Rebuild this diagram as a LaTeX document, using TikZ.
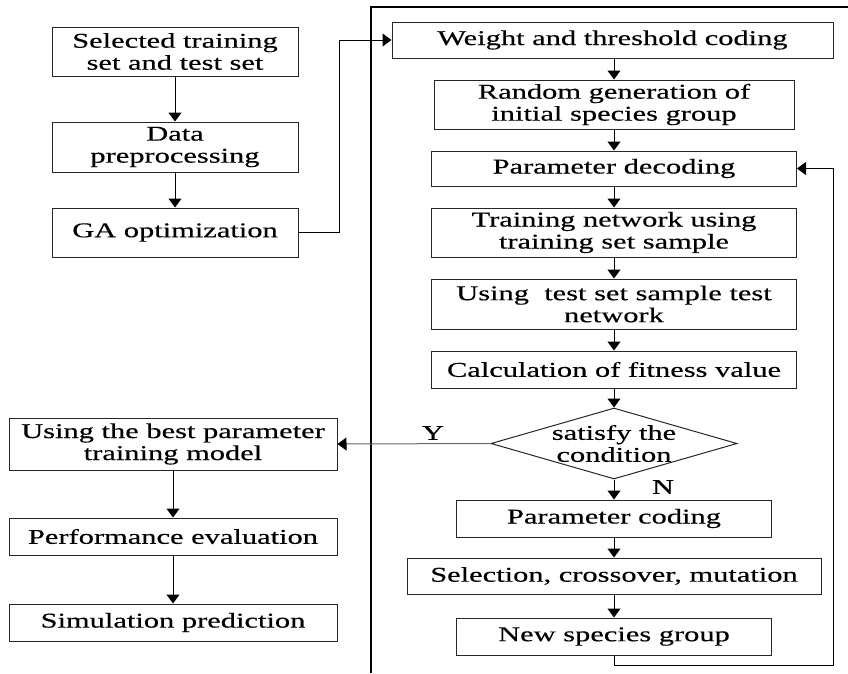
\documentclass[tikz,border=0pt]{standalone}
\usepackage{fontspec}
\setmainfont{Liberation Serif}[FakeStretch=1.45,FakeBold=0.4]
\usetikzlibrary{shapes.geometric,arrows.meta}
\begin{document}
\begin{tikzpicture}[x=1pt,y=-1pt,
  every node/.style={font=\fontsize{21}{22}\selectfont},
  box/.style={draw=black!85,line width=1pt,rectangle,inner sep=0pt,align=center},
  arr/.style={line width=1pt,-{Triangle[length=9pt,width=13pt]}},
  greyarr/.style={line width=1pt,draw=black!60,-{Triangle[length=9pt,width=13pt,color=black]}}]
\useasboundingbox (0,0) rectangle (848,673);
% frame
\draw[line width=2pt] (371,673) -- (371,7) -- (848,7);
% left column
\node[box,minimum width=246,minimum height=49] (A) at (175,51.5) {Selected training\\set and test set};
\node[box,minimum width=246,minimum height=50] (B) at (175,147) {Data\\preprocessing};
\node[box,minimum width=246,minimum height=49] (C) at (175,232.5) {GA optimization};
\node[box,minimum width=328,minimum height=52] (UB) at (173,444) {Using the best parameter\\training model};
\node[box,minimum width=328,minimum height=37] (PE) at (173,536.5) {Performance evaluation};
\node[box,minimum width=328,minimum height=37] (SP) at (173,622.5) {Simulation prediction};
% right column
\node[box,minimum width=441,minimum height=36] (W) at (612.5,40) {Weight and threshold coding};
\node[box,minimum width=360,minimum height=49] (R) at (614,104.5) {Random generation of\\initial species group};
\node[box,minimum width=365,minimum height=35] (PD) at (614,168.5) {Parameter decoding};
\node[box,minimum width=365,minimum height=49] (TN) at (614,232.5) {Training network using\\training set sample};
\node[box,minimum width=365,minimum height=50] (UT) at (614,304) {Using\ \ test set sample test\\network};
\node[box,minimum width=365,minimum height=37] (CF) at (614,369.5) {Calculation of fitness value};
\node[diamond,draw=black!85,line width=1pt,minimum width=246,minimum height=71,inner sep=0pt] (D) at (614,443.5) {};
\node[align=center] (Dt) at (614,443.5) {satisfy the\\condition};
\node[box,minimum width=315,minimum height=37] (PC) at (614,518.5) {Parameter coding};
\node[box,minimum width=414,minimum height=36] (SC) at (614,576) {Selection, crossover, mutation};
\node[box,minimum width=315,minimum height=37] (NS) at (614,636.5) {New species group};
% helper coordinates
\coordinate (c1) at (339,232.5);
\coordinate (fb1) at (614,665);
\coordinate (fb2) at (833,665);
% connectors
\draw[arr] (A) -- (B);
\draw[arr] (B) -- (C);
\draw[arr] (C.east) -- (c1) |- (W.west);
\draw[arr] (W.south -| R.north) -- (R.north);
\draw[arr] (R) -- (PD);
\draw[arr] (PD) -- (TN);
\draw[arr] (TN) -- (UT);
\draw[arr] (UT) -- (CF);
\draw[arr] (CF) -- (D.north);
\draw[arr] (D.south) -- (PC);
\draw[arr] (PC) -- (SC);
\draw[arr] (SC) -- (NS);
\draw[greyarr] (D.west) -- (UB.east);
\draw[arr] (UB) -- (PE);
\draw[arr] (PE) -- (SP);
\draw[arr] (NS.south) -- (fb1) -- (fb2) |- (PD.east);
% labels
\node (Y) at (433,433) {Y};
\node (N) at (663,487) {N};
\end{tikzpicture}
\end{document}
